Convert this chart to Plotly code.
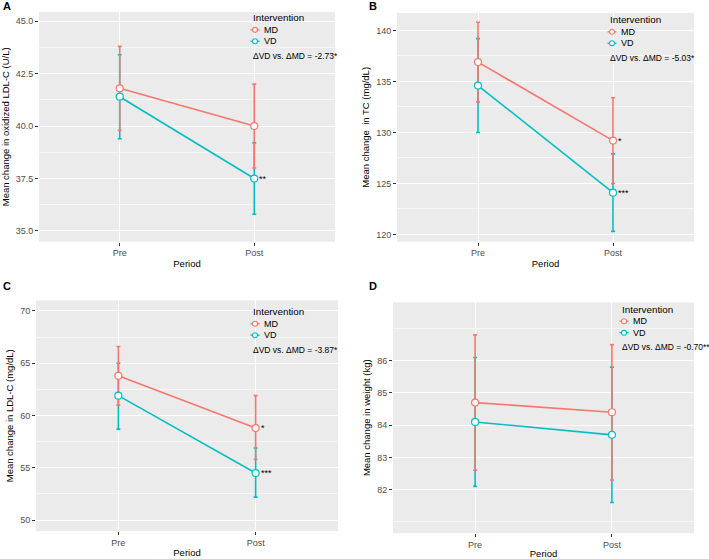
import plotly.graph_objects as go

# ---------------- data ----------------
periods = ["Pre", "Post"]
groups = ["MD", "VD"]

# Panel A: oxidized LDL-C (U/L)
a_md_mean = [41.8, 40.0]
a_md_lo = [39.8, 38.0]
a_md_hi = [43.8, 42.0]
a_vd_mean = [41.4, 37.5]
a_vd_lo = [39.4, 35.8]
a_vd_hi = [43.4, 39.2]

# Panel B: TC (mg/dL)
b_md_mean = [136.9, 129.2]
b_md_lo = [133.0, 125.0]
b_md_hi = [140.8, 133.4]
b_vd_mean = [134.6, 124.1]
b_vd_lo = [130.0, 120.3]
b_vd_hi = [139.2, 127.9]

# Panel C: LDL-C (mg/dL)
c_md_mean = [63.8, 58.8]
c_md_lo = [61.0, 55.8]
c_md_hi = [66.6, 61.9]
c_vd_mean = [61.9, 54.5]
c_vd_lo = [58.7, 52.2]
c_vd_hi = [65.0, 56.9]

# Panel D: weight (kg)
d_md_mean = [84.7, 84.4]
d_md_lo = [82.6, 82.3]
d_md_hi = [86.8, 86.5]
d_vd_mean = [84.1, 83.7]
d_vd_lo = [82.1, 81.6]
d_vd_hi = [86.1, 85.8]

ylabels = ["Mean change in oxidized LDL-C (U/L)", "Mean change  in TC (mg/dL)",
           "Mean change in LDL-C (mg/dL)", "Mean change in weight (kg)"]
letters = ["A", "B", "C", "D"]
legend_title = "Intervention"
diff_texts = ["ΔVD vs. ΔMD = -2.73*", "ΔVD vs. ΔMD = -5.03*",
              "ΔVD vs. ΔMD = -3.87*", "ΔVD vs. ΔMD = -0.70**"]
# significance stars at Post: (MD, VD)
stars = [("", "**"), ("*", "***"), ("*", "***"), ("", "")]

yticks_major = [[35.0, 37.5, 40.0, 42.5, 45.0], [120, 125, 130, 135, 140],
                [50, 55, 60, 65, 70], [82, 83, 84, 85, 86]]
yticks_minor = [[35.0 + 1.25 * i for i in range(9)], [117.5 + 2.5 * i for i in range(11)],
                [47.5 + 2.5 * i for i in range(11)], [81, 87]]
ytick_fmt = [".1f", "d", "d", "d"]
yranges = [[34.49, 45.44], [119.29, 141.72], [48.95, 71.01], [80.65, 87.81]]

# ---------------- layout geometry (pixels) ----------------
W, H = 709, 559
boxes = [  # x0, x1, ytop, ybottom in pixels
    (39, 335, 12, 243),
    (397, 694, 13, 243),
    (36, 338, 302, 534),
    (393, 694, 304, 536),
]
legend_anchor = [(252, 18), (609, 20), (252, 313.5), (621, 311)]  # title left x, title centre y
letter_pos = [(1, 6), (367, 6), (1, 288), (367, 288)]

MD_COL = "#F8766D"
VD_COL = "#00BFC4"
FONT = "Liberation Sans, Arial, sans-serif"
panels = [
    (a_md_mean, a_md_lo, a_md_hi, a_vd_mean, a_vd_lo, a_vd_hi),
    (b_md_mean, b_md_lo, b_md_hi, b_vd_mean, b_vd_lo, b_vd_hi),
    (c_md_mean, c_md_lo, c_md_hi, c_vd_mean, c_vd_lo, c_vd_hi),
    (d_md_mean, d_md_lo, d_md_hi, d_vd_mean, d_vd_lo, d_vd_hi),
]
xpos = [1, 2]


def px(x):
    return x / W


def py(y):
    return 1 - y / H


fig = go.Figure()
annotations = []
shapes = []
layout = {}

for i, (mdm, mdl, mdh, vdm, vdl, vdh) in enumerate(panels):
    sfx = "" if i == 0 else str(i + 1)
    xa, ya = "x" + sfx, "y" + sfx
    series = [("VD", vdm, vdl, vdh, VD_COL), ("MD", mdm, mdl, mdh, MD_COL)]
    # error bars (VD first, MD on top)
    for name, m, lo, hi, col in series:
        fig.add_trace(go.Scatter(
            x=xpos, y=m, mode="markers", xaxis=xa, yaxis=ya,
            marker=dict(size=1, color=col, opacity=0),
            error_y=dict(type="data", symmetric=False,
                         array=[h - v for h, v in zip(hi, m)],
                         arrayminus=[v - l for v, l in zip(m, lo)],
                         color=col, thickness=1.6, width=2),
            showlegend=False, hoverinfo="skip"))
    # lines + points
    for name, m, lo, hi, col in [series[1], series[0]]:
        fig.add_trace(go.Scatter(
            x=xpos, y=m, mode="lines+markers", name=name, xaxis=xa, yaxis=ya,
            line=dict(color=col, width=1.6),
            marker=dict(symbol="circle", size=7, color="white",
                        line=dict(color=col, width=1.2)),
            showlegend=False))
    x0, x1, yt, yb = boxes[i]
    layout["xaxis" + sfx] = dict(
        domain=[px(x0), px(x1)], anchor=ya, range=[0.4, 2.6],
        tickvals=xpos, ticktext=periods, showgrid=True, gridcolor="white",
        gridwidth=1.1, zeroline=False, ticks="outside", ticklen=3,
        tickcolor="#333333", tickfont=dict(size=9, color="#4D4D4D", family=FONT),
        title=dict(text="Period", font=dict(size=9.5, color="black", family=FONT), standoff=2),
        showline=False, fixedrange=True)
    layout["yaxis" + sfx] = dict(
        domain=[py(yb), py(yt)], anchor=xa, range=yranges[i],
        tickvals=yticks_major[i], tickformat=ytick_fmt[i],
        showgrid=True, gridcolor="white", gridwidth=1.1, zeroline=False,
        ticks="outside", ticklen=3, tickcolor="#333333",
        tickfont=dict(size=9, color="#4D4D4D", family=FONT),
        minor=dict(tickvals=yticks_minor[i], showgrid=True, gridcolor="#F7F7F7",
                   gridwidth=0.6, ticks=""),
        title=dict(text=ylabels[i], font=dict(size=9.5, color="black", family=FONT), standoff=4),
        showline=False, fixedrange=True)

    # ---- legend (drawn inside the panel) ----
    lx, ly = legend_anchor[i]
    annotations.append(dict(
        x=px(lx - 1), y=py(ly), xref="paper", yref="paper", xanchor="left",
        yanchor="middle", text=legend_title, showarrow=False,
        font=dict(size=9.8, color="black", family=FONT)))
    for k, (gname, col) in enumerate([("MD", MD_COL), ("VD", VD_COL)]):
        iy = ly + 12 + 11.5 * k
        shapes.append(dict(type="line", xref="paper", yref="paper",
                           x0=px(lx - 1.5), x1=px(lx + 7.5), y0=py(iy), y1=py(iy),
                           line=dict(color=col, width=1.4)))
        shapes.append(dict(type="circle", xref="paper", yref="paper",
                           x0=px(lx + 0.5), x1=px(lx + 5.5), y0=py(iy + 2.5), y1=py(iy - 2.5),
                           fillcolor="white", line=dict(color=col, width=1.1)))
        annotations.append(dict(
            x=px(lx + 10), y=py(iy), xref="paper", yref="paper", xanchor="left",
            yanchor="middle", text=gname, showarrow=False,
            font=dict(size=9, color="black", family=FONT)))
    annotations.append(dict(
        x=px(lx - 1), y=py(ly + 38), xref="paper", yref="paper", xanchor="left",
        yanchor="middle", text=diff_texts[i], showarrow=False,
        font=dict(size=8.5, color="black", family=FONT)))
    # panel letter
    lpx, lpy = letter_pos[i]
    annotations.append(dict(
        x=px(lpx), y=py(lpy), xref="paper", yref="paper", xanchor="left",
        yanchor="middle", text="<b>%s</b>" % letters[i], showarrow=False,
        font=dict(size=11, color="black", family=FONT)))
    # significance stars
    for st, m in zip(stars[i], [mdm, vdm]):
        if st:
            annotations.append(dict(
                x=xpos[1], y=m[1], xref=xa, yref=ya, xanchor="left",
                yanchor="middle", xshift=3, text=st, showarrow=False,
                font=dict(size=9, color="black", family=FONT)))

fig.update_layout(
    width=W, height=H, margin=dict(l=0, r=0, t=0, b=0),
    paper_bgcolor="white", plot_bgcolor="#EBEBEB",
    font=dict(family=FONT), annotations=annotations, shapes=shapes,
    **layout)

fig.write_html("out.html", config={"displayModeBar": False},
               post_script="document.body.style.margin='0px';")
